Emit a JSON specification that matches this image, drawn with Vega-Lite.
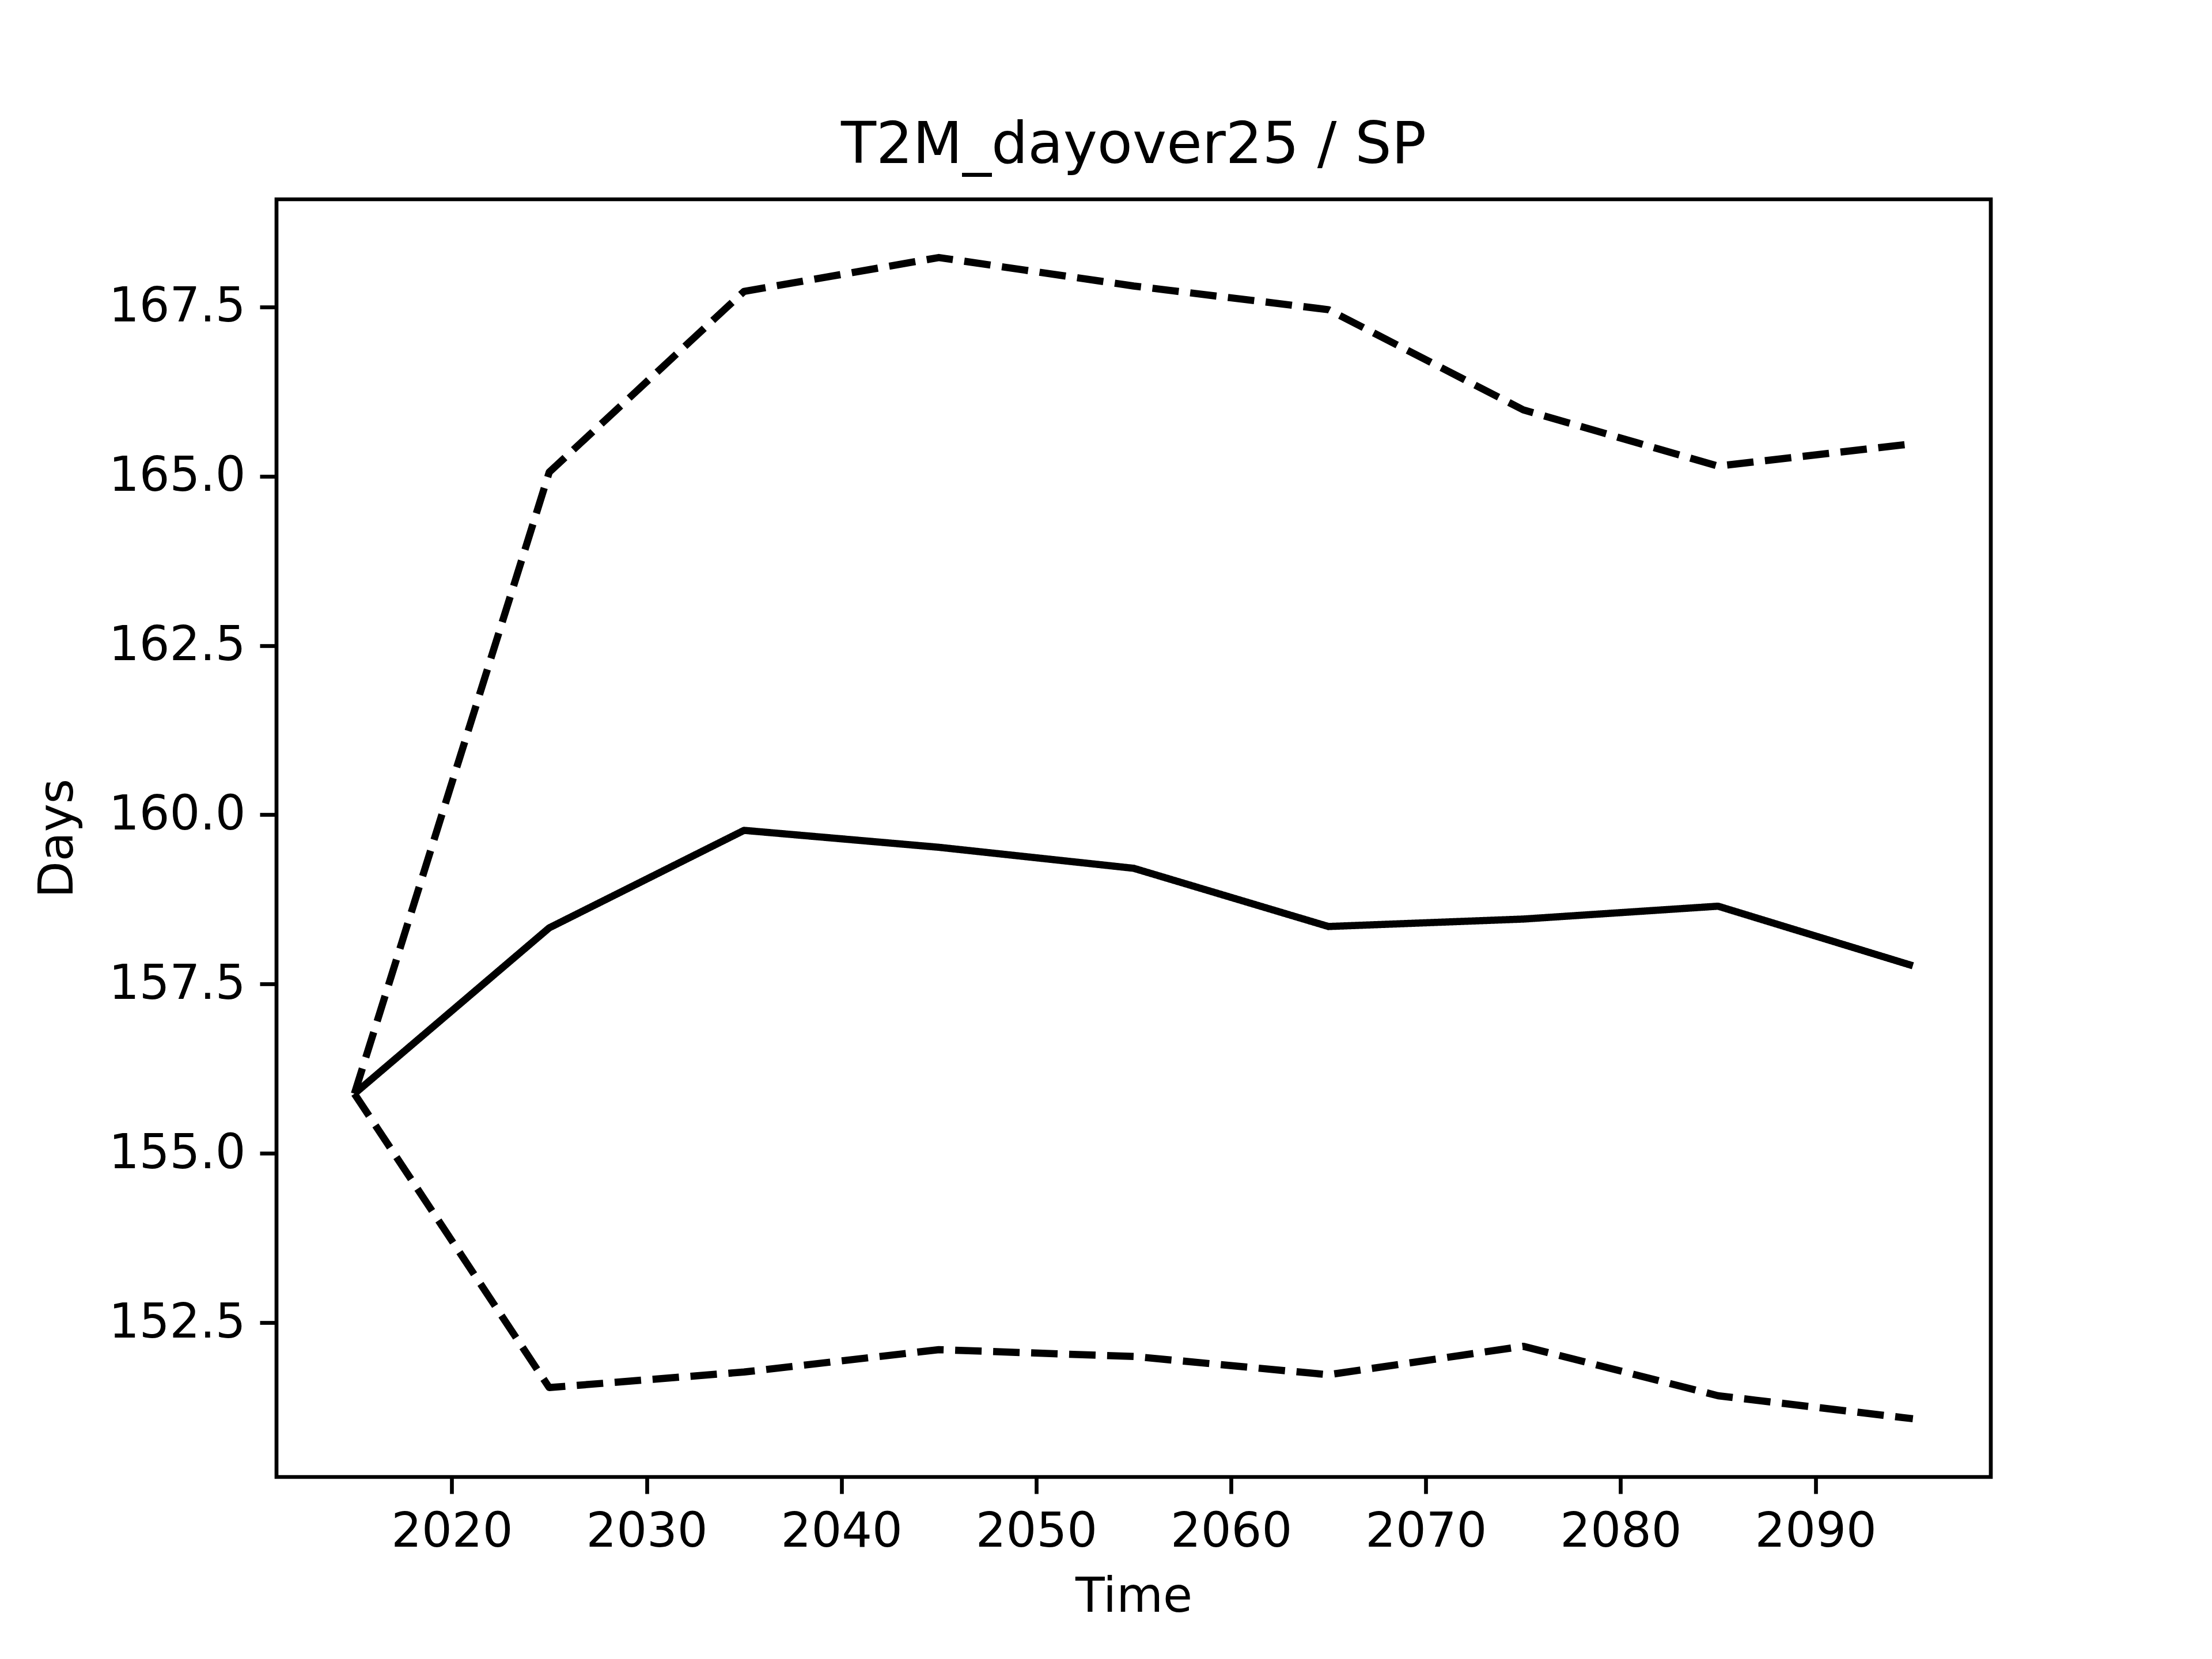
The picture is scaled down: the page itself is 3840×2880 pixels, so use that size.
{
  "$schema": "https://vega.github.io/schema/vega-lite/v6.json",
  "autosize": {"type": "none"},
  "width": 2976,
  "height": 2218,
  "padding": {"left": 480, "top": 346, "right": 384, "bottom": 316},
  "background": "white",
  "title": {
    "text": "T2M_dayover25 / SP",
    "font": "DejaVu Sans",
    "fontSize": 100,
    "fontWeight": "normal",
    "color": "black",
    "anchor": "middle",
    "offset": 42
  },
  "config": {
    "view": {"stroke": "black", "strokeWidth": 6.7},
    "axis": {
      "domain": false,
      "grid": false,
      "ticks": true,
      "tickColor": "black",
      "tickWidth": 6.7,
      "tickSize": 29,
      "labelFont": "DejaVu Sans",
      "labelFontSize": 83,
      "labelColor": "black",
      "labelPadding": 25,
      "labelLimit": 1000,
      "labelOverlap": false,
      "titleFont": "DejaVu Sans",
      "titleFontSize": 83,
      "titleFontWeight": "normal",
      "titleColor": "black"
    }
  },
  "data": {
    "values": [
      {"year": 2015, "series": "mean", "value": 155.88},
      {"year": 2025, "series": "mean", "value": 158.33},
      {"year": 2035, "series": "mean", "value": 159.77},
      {"year": 2045, "series": "mean", "value": 159.52},
      {"year": 2055, "series": "mean", "value": 159.21},
      {"year": 2065, "series": "mean", "value": 158.35},
      {"year": 2075, "series": "mean", "value": 158.46},
      {"year": 2085, "series": "mean", "value": 158.65},
      {"year": 2095, "series": "mean", "value": 157.77},
      {"year": 2015, "series": "upper", "value": 155.88},
      {"year": 2025, "series": "upper", "value": 165.06},
      {"year": 2035, "series": "upper", "value": 167.73},
      {"year": 2045, "series": "upper", "value": 168.23},
      {"year": 2055, "series": "upper", "value": 167.81},
      {"year": 2065, "series": "upper", "value": 167.46},
      {"year": 2075, "series": "upper", "value": 165.98},
      {"year": 2085, "series": "upper", "value": 165.15},
      {"year": 2095, "series": "upper", "value": 165.48},
      {"year": 2015, "series": "lower", "value": 155.88},
      {"year": 2025, "series": "lower", "value": 151.54},
      {"year": 2035, "series": "lower", "value": 151.77},
      {"year": 2045, "series": "lower", "value": 152.1},
      {"year": 2055, "series": "lower", "value": 152.0},
      {"year": 2065, "series": "lower", "value": 151.73},
      {"year": 2075, "series": "lower", "value": 152.15},
      {"year": 2085, "series": "lower", "value": 151.42},
      {"year": 2095, "series": "lower", "value": 151.08}
    ]
  },
  "mark": {"type": "line", "color": "black", "strokeWidth": 12.5, "strokeJoin": "round", "clip": true},
  "encoding": {
    "x": {
      "field": "year",
      "type": "quantitative",
      "title": "Time",
      "scale": {"domain": [2011, 2099], "nice": false, "zero": false},
      "axis": {"values": [2020, 2030, 2040, 2050, 2060, 2070, 2080, 2090], "format": "d", "titlePadding": 30}
    },
    "y": {
      "field": "value",
      "type": "quantitative",
      "title": "Days",
      "scale": {"domain": [150.22, 169.09], "nice": false, "zero": false},
      "axis": {
        "values": [152.5, 155, 157.5, 160, 162.5, 165, 167.5],
        "format": ".1f",
        "titleX": -338,
        "titleY": 1109,
        "titleAngle": -90,
        "titleAlign": "center",
        "titleBaseline": "bottom"
      }
    },
    "detail": {"field": "series"},
    "strokeDash": {
      "field": "series",
      "type": "nominal",
      "scale": {"domain": ["mean", "upper", "lower"], "range": [[1, 0], [46, 20], [46, 20]]},
      "legend": null
    }
  }
}
